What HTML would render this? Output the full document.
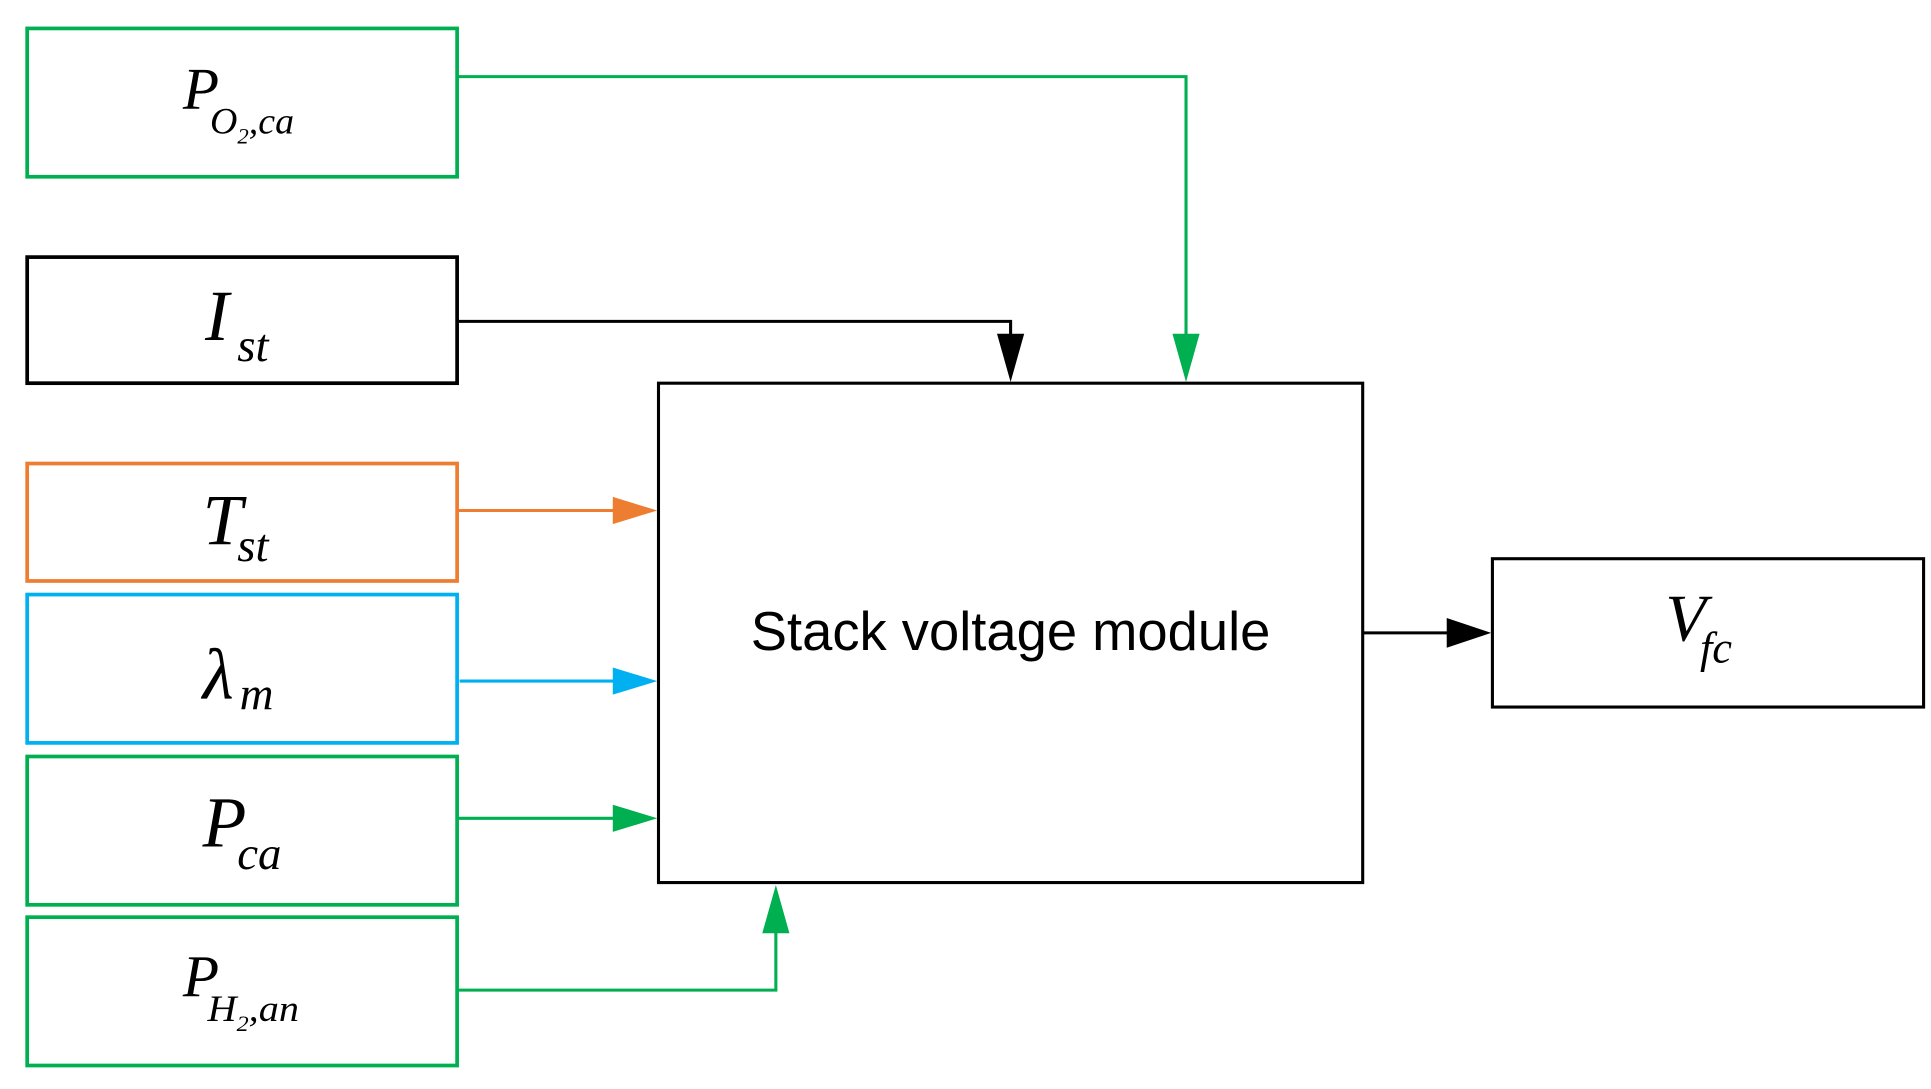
<!DOCTYPE html>
<html><head><meta charset="utf-8"><style>
html,body{margin:0;padding:0;background:#fff;}
svg{display:block}
.m{font-family:"Liberation Serif",serif;font-style:italic;}
</style></head><body>
<svg width="1931" height="1089" viewBox="0 0 1563 881" preserveAspectRatio="none" xmlns="http://www.w3.org/2000/svg">
<g fill="none" stroke-width="3">
<rect x="22" y="23" width="348" height="120" stroke="#00b050"/>
<rect x="22" y="208" width="348" height="102" stroke="#000"/>
<rect x="22" y="375" width="348" height="95" stroke="#ed7d31"/>
<rect x="22" y="481" width="348" height="120" stroke="#00b0f0"/>
<rect x="22" y="612" width="348" height="120" stroke="#00b050"/>
<rect x="22" y="742" width="348" height="120" stroke="#00b050"/>
<rect x="533" y="310" width="570" height="404" stroke="#000" stroke-width="2.5"/>
<rect x="1208" y="452" width="349" height="120" stroke="#000" stroke-width="2.5"/>
</g>
<g fill="none" stroke-width="2.5">
<polyline points="370,62 960,62 960,280" stroke="#00b050"/>
<polyline points="370,260 818,260 818,280" stroke="#000"/>
<line x1="370" y1="413" x2="500" y2="413" stroke="#ed7d31"/>
<line x1="372" y1="551" x2="500" y2="551" stroke="#00b0f0"/>
<line x1="370" y1="662" x2="500" y2="662" stroke="#00b050"/>
<polyline points="370,801 628,801 628,748" stroke="#00b050"/>
<line x1="1103" y1="512" x2="1175" y2="512" stroke="#000"/>
</g>
<polygon points="949,270 971,270 960,309" fill="#00b050"/>
<polygon points="807,270 829,270 818,309" fill="#000"/>
<polygon points="496,402 496,424 532,413" fill="#ed7d31"/>
<polygon points="496,540 496,562 532,551" fill="#00b0f0"/>
<polygon points="496,651 496,673 532,662" fill="#00b050"/>
<polygon points="617,755 639,755 628,716" fill="#00b050"/>
<polygon points="1171,500 1171,524 1207,512" fill="#000"/>
<text x="818" y="526" text-anchor="middle" font-family="Liberation Sans, sans-serif" font-size="44" fill="#000">Stack voltage module</text>
<g class="m" fill="#000">
<text x="148" y="88" font-size="48">P</text>
<text x="170" y="108" font-size="30" textLength="68" lengthAdjust="spacingAndGlyphs">O<tspan font-size="18" dy="8">2</tspan><tspan dy="-8">,ca</tspan></text>
<text x="166" y="275" font-size="58">I</text>
<text x="192" y="292" font-size="38">st</text>
<text x="164" y="440" font-size="58">T</text>
<text x="192" y="454" font-size="38">st</text>
<text x="164" y="565" font-size="58">λ</text>
<text x="194" y="574" font-size="38">m</text>
<text x="164" y="685" font-size="58">P</text>
<text x="192" y="703" font-size="38">ca</text>
<text x="148" y="806" font-size="48">P</text>
<text x="168" y="826" font-size="30" textLength="74" lengthAdjust="spacingAndGlyphs">H<tspan font-size="18" dy="8">2</tspan><tspan dy="-8">,an</tspan></text>
<text x="1348" y="518" font-size="54">V</text>
<text x="1376" y="536" font-size="36">fc</text>
</g>
</svg>
</body></html>
